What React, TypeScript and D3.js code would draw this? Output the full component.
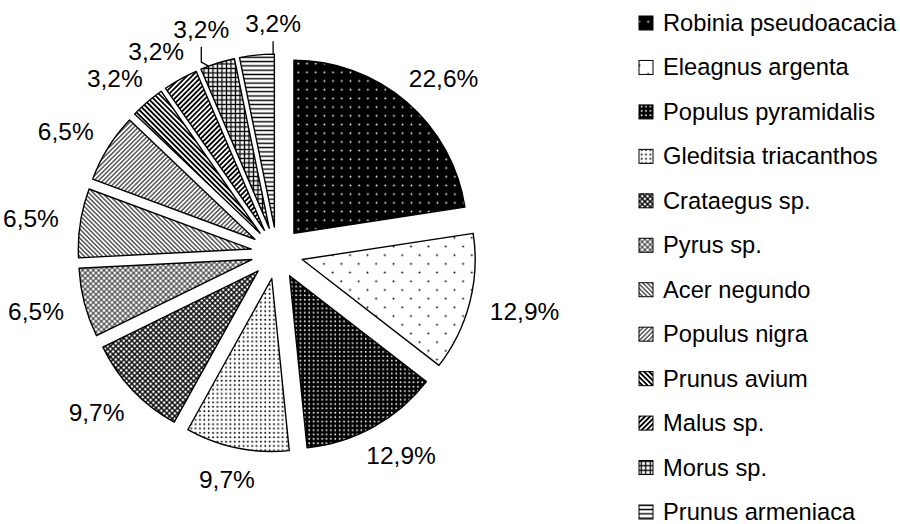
import React from 'react';
import * as d3 from 'd3';

const species = [
  'Robinia pseudoacacia',
  'Eleagnus argenta',
  'Populus pyramidalis',
  'Gleditsia triacanthos',
  'Crataegus sp.',
  'Pyrus sp.',
  'Acer negundo',
  'Populus nigra',
  'Prunus avium',
  'Malus sp.',
  'Morus sp.',
  'Prunus armeniaca',
];
// number of trees per species (31 in total)
const counts = [7, 4, 4, 3, 3, 2, 2, 2, 1, 1, 1, 1];

const width = 900;
const height = 524;
const cx = 277;
const cy = 253;
const radius = 173;
const explode = 26;
const labelFont = 24.5;
const legendFont = 23.7;
const font = 'Arial, "Liberation Sans", sans-serif';

const total = d3.sum(counts);
const pctText = (v: number) => (v / total * 100).toFixed(1).replace('.', ',') + '%';

// rough text width for Arial digits
const textWidth = (s: string) => {
  let w = 0;
  for (const ch of s) w += ch === ',' ? 0.278 : ch === '%' ? 0.889 : 0.556;
  return w * labelFont;
};

function Patterns() {
  const diag = (id: string, s: number, sw: number, angle: number, cross = false) => (
    <pattern id={id} key={id} patternUnits="userSpaceOnUse" width={s} height={s}
      patternTransform={`rotate(${angle})`}>
      <rect width={s} height={s} fill="#fff" />
      <line x1={s / 2} y1={0} x2={s / 2} y2={s} stroke="#000" strokeWidth={sw} />
      {cross && <line x1={0} y1={s / 2} x2={s} y2={s / 2} stroke="#000" strokeWidth={sw} />}
    </pattern>
  );
  const dots = (id: string, s: number, bg: string, fg: string, r: number, pts: number[][]) => (
    <pattern id={id} key={id} patternUnits="userSpaceOnUse" width={s} height={s}>
      <rect width={s} height={s} fill={bg} />
      {pts.map((p, i) => <circle key={i} cx={p[0] * s} cy={p[1] * s} r={r} fill={fg} />)}
    </pattern>
  );
  const grid4 = [[0.25, 0.25], [0.75, 0.25], [0.25, 0.75], [0.75, 0.75]];
  return (
    <defs>
      {dots('p0', 8.7, '#000', '#fff', 0.9, [[0.5, 0.5]])}
      {dots('p1', 17.4, '#fff', '#000', 0.95, [[0.25, 0.25], [0.75, 0.75]])}
      {dots('p2', 8.7, '#000', '#fff', 0.9, grid4)}
      {dots('p3', 8.7, '#fff', '#000', 0.95, grid4)}
      {diag('p4', 3.8, 1.4, 45, true)}
      {diag('p5', 3.8, 0.8, 45, true)}
      {diag('p6', 3.2, 1.0, -45)}
      {diag('p7', 3.2, 1.0, 45)}
      {diag('p8', 3.6, 1.8, -45)}
      {diag('p9', 3.6, 1.8, 45)}
      {diag('p10', 4.5, 1.3, 0, true)}
      {diag('p11', 4.3, 1.4, 90)}
    </defs>
  );
}

export default function App() {
  const pie = d3.pie<number>().sort(null).value((d) => d);
  const arcs = pie(counts);
  const arcGen = d3.arc<d3.PieArcDatum<number>>().innerRadius(0).outerRadius(radius);

  const dirOf = (a: number) => [Math.sin(a), -Math.cos(a)];

  // label boxes, placed outside each slice end
  type Box = { x: number; y: number; w: number; h: number; moved: boolean };
  const boxes: Box[] = [];
  arcs.forEach((a, i) => {
    const mid = (a.startAngle + a.endAngle) / 2;
    const [dx, dy] = dirOf(mid);
    const txt = pctText(a.data);
    const w = textWidth(txt);
    const h = 22;
    const base = radius + explode + 22;
    let b: Box = { x: cx + dx * base + dx * w / 2, y: cy + dy * base + dy * 10, w, h, moved: false };
    const prev = boxes[i - 1];
    const hit = (p: Box, q: Box) => Math.abs(p.x - q.x) < (p.w + q.w) / 2 && Math.abs(p.y - q.y) < (p.h + q.h) / 2;
    if (prev && hit(b, prev)) {
      let k = 0;
      let t = { ...b };
      while (hit(t, prev) && k < 6) {
        k += 0.5;
        t = { ...b, x: b.x + dx * k, y: b.y + dy * k };
      }
      if (!hit(t, prev)) b = { ...t, moved: true };
      else b = { ...b, x: prev.x + prev.w / 2 + 16 + w / 2, moved: true };
    }
    boxes.push(b);
  });

  // closest point on a slice's outer arc to a given point
  const arcPoint = (a: d3.PieArcDatum<number>, px: number, py: number) => {
    const mid = (a.startAngle + a.endAngle) / 2;
    const [ox, oy] = dirOf(mid);
    const ax = cx + ox * explode;
    const ay = cy + oy * explode;
    let ang = Math.atan2(px - ax, -(py - ay));
    if (ang < 0) ang += 2 * Math.PI;
    ang = Math.max(a.startAngle, Math.min(a.endAngle, ang));
    const [ux, uy] = dirOf(ang);
    return [ax + ux * radius, ay + uy * radius];
  };

  const legendY = d3.scalePoint<string>().domain(species).range([31, 520]);

  return (
    <svg width={width} height={height} style={{ position: 'absolute', left: 0, top: 0, background: '#fff' }}
      fontFamily={font}>
      <Patterns />
      <rect width={width} height={height} fill="#fff" />
      {arcs.map((a, i) => {
        const mid = (a.startAngle + a.endAngle) / 2;
        const [dx, dy] = dirOf(mid);
        return (
          <path key={species[i]} d={arcGen(a) || ''}
            transform={`translate(${cx + dx * explode},${cy + dy * explode})`}
            fill={`url(#p${i})`} stroke="#000" strokeWidth={1.4} strokeLinejoin="round" />
        );
      })}
      {arcs.map((a, i) => {
        const b = boxes[i];
        if (!b.moved) return null;
        const sy = b.y + 18;
        const [tx, ty] = arcPoint(a, b.x, sy);
        return (
          <path key={'l' + i} d={`M${b.x},${sy}V${ty - 4}L${tx},${ty}`} fill="none" stroke="#000" strokeWidth={1.3} />
        );
      })}
      {arcs.map((a, i) => (
        <text key={'t' + i} x={boxes[i].x} y={boxes[i].y} dy="0.36em" textAnchor="middle"
          fontSize={labelFont} fill="#000">{pctText(a.data)}</text>
      ))}
      {species.map((s, i) => {
        const y = legendY(s) || 0;
        return (
          <g key={'lg' + i}>
            <rect x={639} y={y - 15} width={14} height={14} fill={`url(#p${i})`} stroke="#000" strokeWidth={1} />
            <text x={663} y={y} fontSize={legendFont} fill="#000">{s}</text>
          </g>
        );
      })}
    </svg>
  );
}
